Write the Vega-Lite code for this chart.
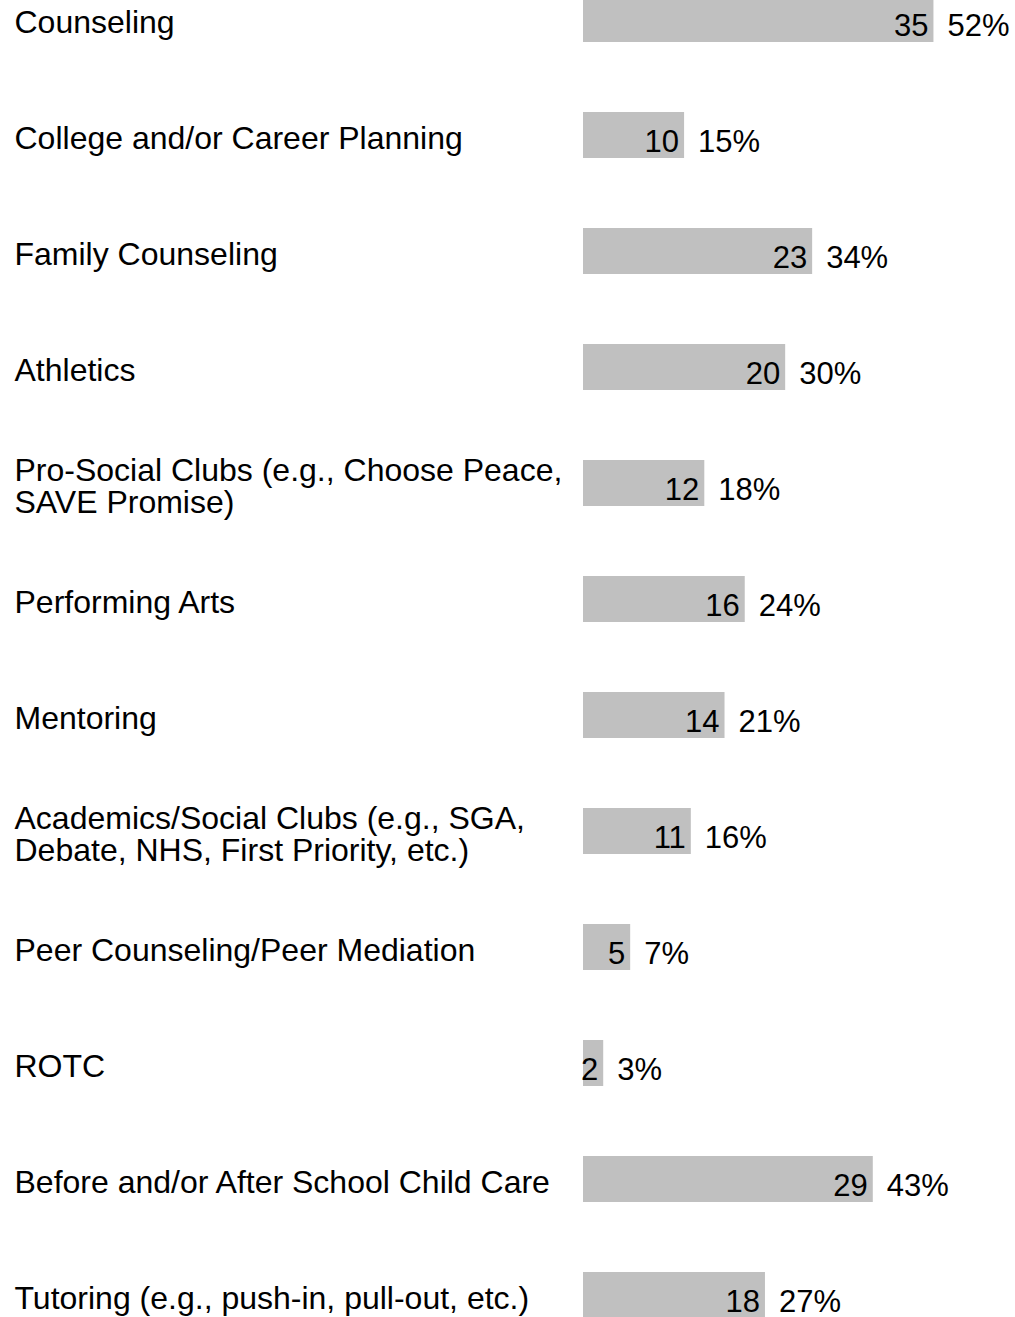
{
  "$schema": "https://vega.github.io/schema/vega-lite/v6.json",
  "width": 432,
  "height": 1317,
  "autosize": "none",
  "padding": {"left": 583, "top": 0, "right": 0, "bottom": 0},
  "background": "white",
  "config": {"view": {"stroke": null}, "font": "Liberation Sans"},
  "data": {
    "values": [
      {"order": 1, "label": "Counseling", "count": 35, "percent": 52, "pct": "52%"},
      {"order": 2, "label": "College and/or Career Planning", "count": 10, "percent": 15, "pct": "15%"},
      {"order": 3, "label": "Family Counseling", "count": 23, "percent": 34, "pct": "34%"},
      {"order": 4, "label": "Athletics", "count": 20, "percent": 30, "pct": "30%"},
      {"order": 5, "label": "Pro-Social Clubs (e.g., Choose Peace,|SAVE Promise)", "count": 12, "percent": 18, "pct": "18%"},
      {"order": 6, "label": "Performing Arts", "count": 16, "percent": 24, "pct": "24%"},
      {"order": 7, "label": "Mentoring", "count": 14, "percent": 21, "pct": "21%"},
      {"order": 8, "label": "Academics/Social Clubs (e.g., SGA,|Debate, NHS, First Priority, etc.)", "count": 11, "percent": 16, "pct": "16%"},
      {"order": 9, "label": "Peer Counseling/Peer Mediation", "count": 5, "percent": 7, "pct": "7%"},
      {"order": 10, "label": "ROTC", "count": 2, "percent": 3, "pct": "3%"},
      {"order": 11, "label": "Before and/or After School Child Care", "count": 29, "percent": 43, "pct": "43%"},
      {"order": 12, "label": "Tutoring (e.g., push-in, pull-out, etc.)", "count": 18, "percent": 27, "pct": "27%"}
    ]
  },
  "encoding": {
    "y": {
      "field": "label",
      "type": "nominal",
      "sort": {"field": "order"},
      "scale": {"range": [-4, 1318], "paddingInner": 0.6034, "paddingOuter": 0},
      "axis": {
        "title": null,
        "ticks": false,
        "domain": false,
        "labelAlign": "left",
        "labelBaseline": "middle",
        "labelPadding": 569,
        "labelFontSize": 32,
        "labelLineHeight": 32,
        "labelLimit": 0,
        "labelColor": "black",
        "labelFont": "Liberation Sans",
        "labelOffset": {"condition": {"test": "indexof(datum.label, '|') >= 0", "value": -12}, "value": 4},
        "labelOverlap": false,
        "labelExpr": "split(datum.label, '|')"
      }
    }
  },
  "layer": [
    {
      "mark": {"type": "bar", "color": "#c0c0c0"},
      "encoding": {
        "x": {"field": "percent", "type": "quantitative", "scale": {"domain": [0, 64.1], "nice": false}, "axis": null}
      }
    },
    {
      "mark": {"type": "text", "align": "right", "baseline": "alphabetic", "dx": -5, "dy": 17, "fontSize": 31, "color": "black"},
      "encoding": {
        "x": {"field": "percent", "type": "quantitative"},
        "text": {"field": "count"}
      }
    },
    {
      "mark": {"type": "text", "align": "left", "baseline": "alphabetic", "dx": 14, "dy": 17, "fontSize": 31, "color": "black"},
      "encoding": {
        "x": {"field": "percent", "type": "quantitative"},
        "text": {"field": "pct"}
      }
    }
  ]
}
